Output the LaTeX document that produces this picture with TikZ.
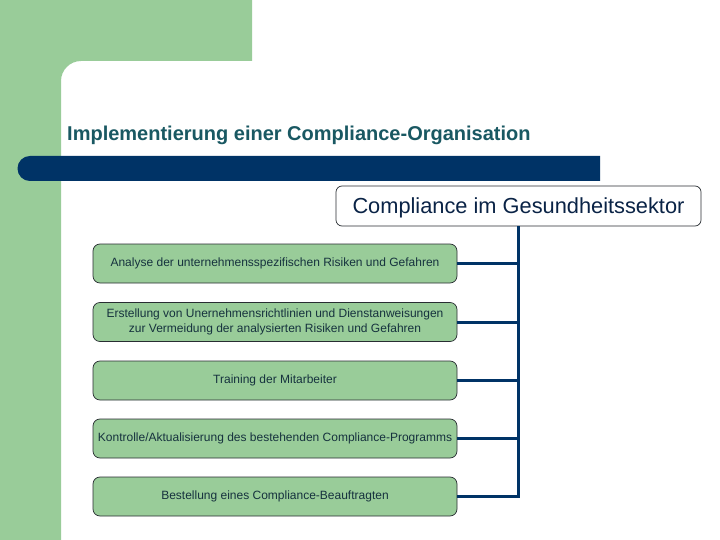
\documentclass[tikz,border=0pt]{standalone}
\usepackage{fontspec}
\setmainfont{Liberation Sans}
\definecolor{bggreen}{RGB}{153,204,153}
\definecolor{navy}{RGB}{0,51,102}
\definecolor{titlecol}{RGB}{25,88,98}
\definecolor{boxtext}{RGB}{22,50,62}
\definecolor{toptext}{RGB}{10,35,70}
\definecolor{edgecol}{RGB}{40,45,50}
\tikzset{
  greenbox/.style={draw=edgecol, line width=0.7pt, fill=bggreen, rounded corners=7pt,
    minimum width=364pt, minimum height=39pt, inner sep=0pt, align=center,
    text=boxtext, font=\fontsize{12}{15.5}\selectfont},
  topbox/.style={draw=edgecol, line width=0.7pt, fill=white, rounded corners=6pt,
    minimum width=365pt, minimum height=40pt, inner sep=0pt,
    text=toptext, font=\fontsize{21.8}{24}\selectfont},
  conn/.style={draw=navy, line width=3pt}
}
\begin{document}
\begin{tikzpicture}[x=1pt,y=-1pt]
\useasboundingbox (0,0) rectangle (720,540);
\fill[white] (0,0) rectangle (720,540);
% green background
\fill[bggreen] (0,0) -- (252,0) -- (252,61) -- (81,61)
  .. controls (70,61) and (61,70) .. (61,81) -- (61,540) -- (0,540) -- cycle;
% title
\node[anchor=base west, inner sep=0pt, text=titlecol, font=\fontsize{20}{24}\selectfont\bfseries]
  (title) at (67,141) {Implementierung einer Compliance-Organisation};
% bar
\fill[navy] (600,156) -- (30,156) .. controls (23,156) and (17.5,161.5) .. (17.5,168.5)
  .. controls (17.5,175.5) and (23,181) .. (30,181) -- (600,181) -- cycle;
% top box
\node[topbox, text depth=1pt] (top) at (518.5,206) {Compliance im Gesundheitssektor};
% green boxes
\node[greenbox] (b1) at (275,263.5) {Analyse der unternehmensspezifischen Risiken und Gefahren};
\node[greenbox] (b2) at (275,322) {Erstellung von Unernehmensrichtlinien und Dienstanweisungen\\zur Vermeidung der analysierten Risiken und Gefahren};
\node[greenbox] (b3) at (275,380.5) {Training der Mitarbeiter};
\node[greenbox] (b4) at (275,438.5) {Kontrolle/Aktualisierung des bestehenden Compliance-Programms};
\node[greenbox] (b5) at (275,496.5) {Bestellung eines Compliance-Beauftragten};
% connectors
\draw[conn] (top.south) |- (b5.east);
\foreach \b in {b1,b2,b3,b4}{
  \draw[conn] (\b.east) -- (\b.east -| top.south);
}
\end{tikzpicture}
\end{document}
